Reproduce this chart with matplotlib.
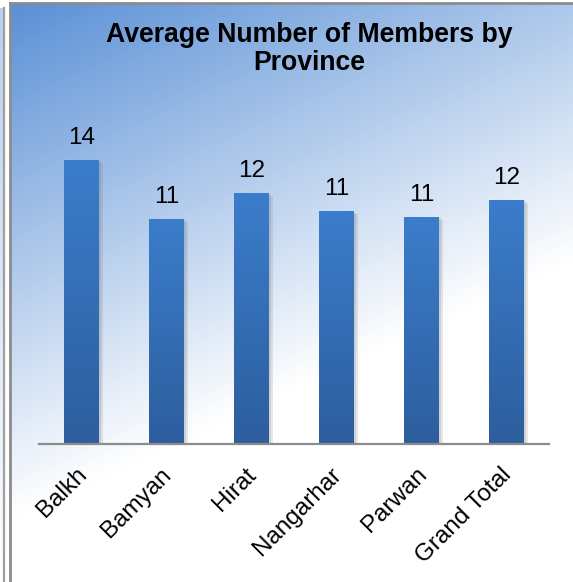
import numpy as np
import matplotlib
matplotlib.use("Agg")
import matplotlib.pyplot as plt
import matplotlib.patheffects as pe
import matplotlib.transforms as mtransforms
from matplotlib.colors import to_rgb

plt.rcParams['font.family'] = ['Liberation Sans', 'DejaVu Sans']

# Data
provinces = ["Balkh", "Bamyan", "Hirat", "Nangarhar", "Parwan", "Grand Total"]
avg_members = [14.0, 11.09, 12.37, 11.48, 11.19, 12.03]
title = "Average Number of Members by\nProvince"

W, H = 573, 582
fig = plt.figure(figsize=(W / 100, H / 100), dpi=100)
fig.patch.set_facecolor("white")

def fx(px):
    return px / W

def fy(py):
    return 1 - py / H

# Diagonal background gradient (blue top-left fading to white bottom-right)
bg = fig.add_axes([fx(11), 0, 1 - fx(11), fy(4)])
bg.set_axis_off()
ny, nx = 300, 300
xs = np.linspace(11, W, nx)
ys = np.linspace(4, H, ny)
X, Y = np.meshgrid(xs, ys)
t = ((X - 10) * 0.419 + (Y - 3) * 0.908) / 470.0
t = np.clip(t, 0, 1)
c0 = np.array(to_rgb("#5A90D6"))
c1 = np.array([1.0, 1.0, 1.0])
img = c0[None, None, :] * (1 - t[..., None]) + c1[None, None, :] * t[..., None]
bg.imshow(img, extent=[0, 1, 0, 1], aspect="auto", origin="upper")
bg.set_xlim(0, 1)
bg.set_ylim(0, 1)

# Neighbouring panel strip on the far left
strip = fig.add_axes([0, 0, fx(3.5), fy(8)])
strip.set_axis_off()
sy = np.linspace(0, 1, 200)
simg = np.array(to_rgb("#B9D0EE"))[None, None, :] * (1 - sy[:, None, None]) + sy[:, None, None]
strip.imshow(np.repeat(simg, 2, axis=1), extent=[0, 1, 0, 1], aspect="auto", origin="upper")

# Frame lines
fig.add_artist(plt.Line2D([fx(4), fx(4)], [0, fy(8)], color="#A0A0A0", lw=1.6))
fig.add_artist(plt.Line2D([fx(10), fx(10)], [0, fy(3)], color="#8C8C8C", lw=2.0))
fig.add_artist(plt.Line2D([fx(10), 1], [fy(3), fy(3)], color="#8C8C8C", lw=2.0))

# Plot area
ax_top, ax_bot = 100, 444
ax = fig.add_axes([fx(39), fy(ax_bot), fx(549) - fx(39), (ax_bot - ax_top) / H])
ax.patch.set_alpha(0)
scale = (444 - 160) / 14.0
ax.set_ylim(0, (ax_bot - ax_top) / scale)
ax.set_xlim(-0.5, len(provinces) - 0.5)

x = np.arange(len(provinces))
bars = ax.bar(x, avg_members, width=35 / 85, color="#3570B8", zorder=3,
              path_effects=[
                  pe.SimplePatchShadow(offset=(3, -2), shadow_rgbFace="#7A7A7A", alpha=0.18),
                  pe.SimplePatchShadow(offset=(1.5, -1), shadow_rgbFace="#7A7A7A", alpha=0.2),
                  pe.Normal()])

# Vertical gradient fill inside each bar
top_c = np.array(to_rgb("#3B7DCB"))
bot_c = np.array(to_rgb("#2D5E9E"))
g = np.linspace(0, 1, 256)[:, None, None]
grad = top_c[None, None, :] * (1 - g) + bot_c[None, None, :] * g
for b in bars:
    x0, w, h = b.get_x(), b.get_width(), b.get_height()
    im = ax.imshow(grad, extent=[x0, x0 + w, 0, h], aspect="auto",
                   origin="upper", zorder=4)
    im.set_clip_path(b)

for xi, v in zip(x, avg_members):
    ax.annotate(f"{v:.0f}", (xi, v), xytext=(0, 11), textcoords="offset pixels",
                ha="center", va="bottom", fontsize=17.5, color="black", zorder=5)

for s in ["top", "right", "left"]:
    ax.spines[s].set_visible(False)
ax.spines["bottom"].set_color("#8C8C8C")
ax.spines["bottom"].set_linewidth(1.6)
ax.spines["bottom"].set_zorder(6)
ax.set_yticks([])
ax.set_xticks(x)
ax.set_xticklabels(provinces, rotation=45, ha="right", va="top",
                   rotation_mode="anchor", fontsize=17.5)
ax.tick_params(axis="x", length=0, pad=14)
shift = mtransforms.ScaledTranslation(-6 / 100, 0 / 100, fig.dpi_scale_trans)
for lbl in ax.get_xticklabels():
    lbl.set_transform(lbl.get_transform() + shift)

fig.text(fx(309.5), fy(49), title, ha="center", va="center", fontsize=19.2,
         fontweight="bold", linespacing=1.13)

fig.savefig("out.png", dpi=100)
